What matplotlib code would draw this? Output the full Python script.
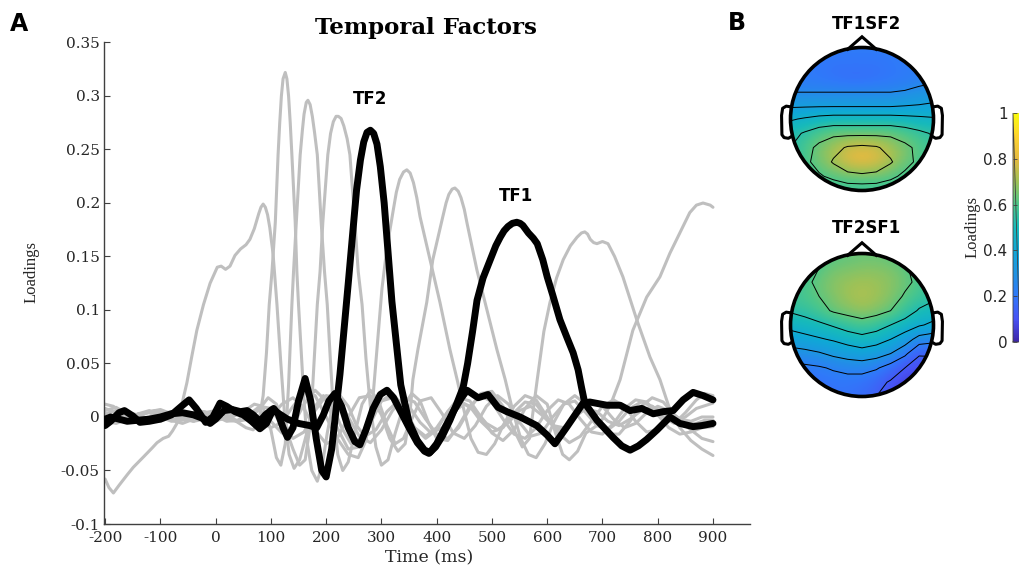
import numpy as np
import matplotlib
matplotlib.use("Agg")
import matplotlib.pyplot as plt
from matplotlib.colors import LinearSegmentedColormap
from matplotlib.patches import Circle

# ---------------- data: temporal factors (time ms, loading) ----------------
TF1 = [(-200,-0.002),(-190,0.0),(-175,-0.002),(-160,-0.004),(-140,-0.003),(-120,-0.002),(-100,0.0),
       (-80,0.003),(-60,0.004),(-40,0.002),(-20,-0.002),(-10,-0.006),(0,-0.002),(15,0.006),(30,0.007),
       (45,0.005),(57,0.006),(68,0.002),(80,-0.004),(90,0.002),(102,0.007),(115,0.003),(130,-0.002),
       (150,-0.006),(170,-0.008),(183,-0.010),(195,0.002),(205,0.015),(216,0.022),(228,0.010),(240,-0.010),
       (252,-0.023),(261,-0.026),(272,-0.012),(285,0.008),(298,0.021),(310,0.025),(322,0.018),(335,0.005),
       (350,-0.010),(365,-0.024),(378,-0.032),(386,-0.034),(398,-0.028),(410,-0.018),(424,-0.003),
       (436,0.012),(448,0.028),(456,0.050),(465,0.080),(473,0.109),(484,0.130),(497,0.147),(507,0.160),
       (515,0.168),(522,0.174),(529,0.178),(537,0.181),(545,0.182),(551,0.181),(556,0.179),(566,0.172),
       (575,0.167),(582,0.162),(592,0.147),(600,0.131),(610,0.114),(623,0.091),(636,0.074),(647,0.060),
       (656,0.044),(662,0.028),(668,0.013),(690,-0.003),(719,-0.019),(735,-0.027),(750,-0.031),
       (765,-0.027),(780,-0.021),(799,-0.012),(822,0.000),(840,-0.006),(864,-0.009),(880,-0.008),
       (900,-0.006)]

TF2 = [(-200,-0.008),(-190,-0.004),(-175,0.004),(-165,0.006),(-150,0.001),(-137,-0.005),(-120,-0.004),
       (-100,-0.002),(-80,0.002),(-62,0.010),(-48,0.016),(-35,0.008),(-18,-0.005),(-5,0.000),(8,0.013),
       (20,0.010),(35,0.005),(50,0.002),(65,-0.004),(80,-0.011),(92,-0.006),(105,0.008),(113,0.003),
       (122,-0.010),(130,-0.019),(140,-0.010),(150,0.015),(162,0.036),(172,0.015),(182,-0.020),
       (192,-0.050),(200,-0.056),(210,-0.030),(225,0.040),(240,0.125),(255,0.212),(262,0.240),
       (268,0.257),(274,0.266),(280,0.268),(286,0.265),(292,0.255),(298,0.234),(305,0.200),
       (319,0.108),(335,0.030),(350,-0.005),(365,-0.022),(378,-0.031),(388,-0.033),(400,-0.025),
       (415,-0.010),(430,0.005),(445,0.018),(455,0.025),(475,0.018),(493,0.021),(511,0.009),
       (527,0.005),(551,0.000),(581,-0.008),(600,-0.017),(614,-0.025),(636,-0.009),(665,0.013),
       (677,0.014),(708,0.011),(732,0.011),(750,0.006),(771,0.008),(792,0.003),(810,0.005),
       (828,0.006),(846,0.016),(864,0.023),(882,0.020),(900,0.016)]

GREY_FACTORS = [
    # G1: early ramp, peak ~86 ms
    [(-200,-0.058),(-193,-0.066),(-185,-0.071),(-175,-0.064),(-160,-0.054),(-149,-0.047),(-130,-0.037),
     (-115,-0.029),(-106,-0.024),(-95,-0.020),(-85,-0.018),(-78,-0.013),(-70,-0.006),(-61,0.012),
     (-52,0.032),(-43,0.057),(-34,0.081),(-22,0.105),(-10,0.125),(3,0.140),(10,0.141),(18,0.138),
     (26,0.141),(35,0.151),(45,0.157),(55,0.161),(62,0.166),(70,0.176),(78,0.190),(82,0.196),(86,0.199),
     (90,0.196),(94,0.189),(98,0.177),(104,0.152),(111,0.105),(118,0.050),(125,0.000),(133,-0.035),
     (142,-0.048),(152,-0.040),(165,-0.015),(180,0.010),(195,0.020),(210,0.012),(228,-0.010),
     (245,-0.025),(262,-0.020),(280,-0.002),(300,0.015),(320,0.018),(340,0.005),(360,-0.010),
     (380,-0.018),(400,-0.010),(420,0.005),(440,0.015),(460,0.010),(480,-0.004),(500,-0.014),
     (520,-0.010),(540,0.004),(560,0.014),(580,0.012),(600,-0.002),(620,-0.012),(640,-0.008),
     (660,0.006),(680,0.014),(700,0.010),(720,-0.002),(740,-0.010),(760,-0.006),(780,0.004),
     (800,0.010),(820,0.006),(840,-0.002),(860,-0.004),(880,0.000),(900,0.000)],
    # G2: peak ~126 ms
    [(-200,0.006),(-180,0.009),(-160,0.003),(-140,-0.002),(-120,0.000),(-100,0.005),(-80,0.003),
     (-60,-0.002),(-40,-0.004),(-20,0.001),(0,0.005),(20,0.001),(40,-0.005),(55,-0.010),(68,-0.012),
     (78,-0.005),(86,0.020),(92,0.060),(97,0.105),(102,0.136),(108,0.182),(113,0.245),(116,0.275),
     (119,0.300),(122,0.316),(126,0.322),(129,0.316),(132,0.300),(135,0.275),(138,0.245),(144,0.182),
     (147,0.136),(150,0.105),(155,0.060),(160,0.015),(166,-0.025),(174,-0.050),(184,-0.060),
     (193,-0.045),(202,-0.015),(212,0.012),(225,0.020),(240,0.010),(255,-0.008),(270,-0.018),
     (290,-0.012),(310,0.005),(330,0.015),(350,0.010),(370,-0.005),(390,-0.015),(410,-0.010),
     (430,0.005),(450,0.012),(470,0.006),(490,-0.006),(510,-0.012),(530,-0.005),(550,0.006),
     (570,0.010),(590,0.002),(610,-0.008),(630,-0.010),(650,0.000),(670,0.008),(690,0.005),
     (710,-0.004),(730,-0.008),(750,-0.002),(770,0.006),(790,0.010),(810,0.004),(830,-0.004),
     (850,0.000),(870,0.008),(900,0.013)],
    # G3: peak ~167 ms
    [(-200,0.012),(-185,0.010),(-170,0.004),(-150,0.000),(-130,0.003),(-110,0.006),(-90,0.002),
     (-70,-0.002),(-50,0.002),(-30,0.006),(-10,0.003),(10,-0.002),(30,0.000),(50,0.005),(70,0.012),
     (85,0.010),(100,-0.012),(110,-0.038),(118,-0.045),(126,-0.025),(132,0.030),(138,0.105),
     (141,0.136),(146,0.182),(153,0.245),(157,0.268),(160,0.283),(164,0.294),(167,0.296),(171,0.292),
     (175,0.281),(179,0.266),(184,0.245),(191,0.182),(197,0.136),(202,0.105),(208,0.050),(214,0.000),
     (221,-0.035),(230,-0.050),(240,-0.042),(252,-0.015),(265,0.012),(280,0.025),(295,0.015),
     (310,-0.008),(325,-0.025),(340,-0.020),(355,-0.002),(370,0.015),(390,0.018),(410,0.003),
     (430,-0.015),(450,-0.020),(470,-0.008),(490,0.010),(510,0.020),(530,0.012),(550,-0.005),
     (570,-0.018),(590,-0.015),(610,0.000),(630,0.012),(650,0.015),(670,0.004),(690,-0.008),
     (710,-0.012),(730,-0.004),(750,0.008),(770,0.014),(790,0.010),(810,0.000),(830,-0.006),
     (850,0.004),(870,0.016),(885,0.022),(900,0.020)],
    # G4: peak ~222 ms
    [(-200,0.000),(-180,-0.004),(-160,-0.002),(-140,0.003),(-120,0.006),(-100,0.002),(-80,-0.003),
     (-60,-0.006),(-40,-0.002),(-20,0.004),(0,0.006),(20,0.002),(40,-0.004),(60,-0.002),(80,0.008),
     (95,0.018),(110,0.012),(125,-0.008),(140,-0.030),(152,-0.045),(162,-0.040),(172,-0.005),
     (178,0.050),(184,0.105),(189,0.136),(194,0.182),(203,0.245),(208,0.265),(213,0.276),(218,0.281),
     (222,0.281),(227,0.279),(232,0.272),(238,0.260),(243,0.245),(252,0.182),(258,0.136),(265,0.105),
     (272,0.055),(280,0.010),(290,-0.028),(300,-0.045),(312,-0.040),(325,-0.015),(340,0.010),
     (355,0.022),(370,0.015),(385,-0.005),(400,-0.020),(420,-0.022),(440,-0.008),(460,0.010),
     (480,0.020),(500,0.014),(520,-0.002),(540,-0.016),(560,-0.020),(580,-0.010),(600,0.006),
     (620,0.016),(640,0.012),(660,-0.002),(680,-0.014),(700,-0.016),(720,-0.006),(740,0.008),
     (760,0.016),(780,0.014),(800,0.002),(820,-0.010),(840,-0.016),(860,-0.014),(880,-0.010),
     (900,-0.009)],
    # G5: peak ~346 ms
    [(-200,-0.004),(-180,0.000),(-160,0.004),(-140,0.002),(-120,-0.003),(-100,-0.004),(-80,0.000),
     (-60,0.003),(-40,0.001),(-20,-0.003),(0,-0.004),(20,0.000),(40,0.004),(60,0.002),(80,-0.004),
     (100,-0.010),(120,-0.005),(140,0.010),(160,0.022),(180,0.020),(200,0.000),(220,-0.020),
     (240,-0.035),(258,-0.038),(272,-0.022),(285,0.020),(293,0.070),(301,0.120),(310,0.158),
     (321,0.192),(327,0.210),(333,0.222),(340,0.229),(346,0.231),(352,0.228),(358,0.219),(364,0.205),
     (370,0.187),(388,0.147),(406,0.107),(424,0.063),(437,0.035),(450,0.005),(462,-0.020),
     (475,-0.033),(490,-0.035),(505,-0.025),(520,-0.008),(540,0.010),(560,0.020),(580,0.016),
     (600,0.000),(620,-0.015),(640,-0.024),(660,-0.018),(680,-0.004),(700,0.010),(720,0.016),
     (740,0.010),(760,-0.004),(780,-0.014),(800,-0.012),(820,-0.004),(840,-0.004),(860,-0.012),
     (880,-0.020),(900,-0.023)],
    # G6: peak ~433 ms
    [(-200,0.003),(-180,0.006),(-160,0.000),(-140,-0.004),(-120,-0.002),(-100,0.003),(-80,0.005),
     (-60,0.000),(-40,-0.004),(-20,-0.002),(0,0.002),(20,0.005),(40,0.002),(60,-0.003),(80,-0.006),
     (100,0.000),(120,0.012),(140,0.018),(160,0.008),(180,-0.012),(200,-0.025),(220,-0.020),
     (240,0.000),(260,0.018),(280,0.020),(300,0.002),(315,-0.020),(330,-0.032),(343,-0.025),
     (352,0.005),(357,0.035),(366,0.063),(382,0.107),(393,0.147),(411,0.187),(417,0.200),(422,0.208),
     (428,0.213),(433,0.214),(439,0.211),(444,0.205),(450,0.194),(455,0.181),(473,0.137),(491,0.100),
     (509,0.063),(524,0.035),(538,0.005),(552,-0.020),(566,-0.035),(580,-0.038),(596,-0.025),
     (612,-0.005),(630,0.012),(650,0.020),(670,0.012),(690,-0.004),(710,-0.016),(730,-0.016),
     (750,-0.004),(770,0.010),(790,0.018),(810,0.014),(830,0.002),(850,-0.006),(870,-0.006),
     (885,-0.003),(900,-0.003)],
    # G7: peak ~668 ms with notch
    [(-200,0.008),(-180,0.004),(-160,-0.002),(-140,0.000),(-120,0.005),(-100,0.007),(-80,0.003),
     (-60,-0.002),(-40,0.000),(-20,0.004),(0,0.002),(20,-0.003),(40,-0.004),(60,0.002),(80,0.010),
     (100,0.008),(120,-0.008),(140,-0.020),(160,-0.014),(180,0.006),(200,0.020),(220,0.018),
     (240,0.000),(260,-0.018),(280,-0.024),(300,-0.012),(320,0.006),(340,0.018),(360,0.014),
     (380,-0.002),(400,-0.016),(420,-0.020),(440,-0.010),(460,0.008),(480,0.022),(500,0.024),
     (520,0.010),(540,-0.012),(555,-0.028),(568,-0.020),(582,0.035),(594,0.080),(605,0.107),
     (617,0.130),(629,0.147),(642,0.160),(654,0.168),(662,0.172),(668,0.173),(673,0.171),(678,0.166),
     (684,0.163),(690,0.162),(700,0.164),(710,0.162),(722,0.150),(737,0.131),(762,0.091),(786,0.056),
     (804,0.035),(820,0.010),(840,-0.010),(860,-0.022),(880,-0.030),(900,-0.036)],
    # G8: rising towards end
    [(-200,-0.004),(-180,-0.006),(-160,-0.002),(-140,0.003),(-120,0.004),(-100,0.000),(-80,-0.004),
     (-60,-0.003),(-40,0.002),(-20,0.005),(0,0.001),(20,-0.004),(40,-0.003),(60,0.004),(80,0.006),
     (100,-0.004),(120,-0.015),(140,-0.008),(160,0.012),(180,0.025),(200,0.015),(220,-0.010),
     (240,-0.030),(260,-0.028),(280,-0.006),(300,0.015),(320,0.022),(340,0.010),(360,-0.010),
     (380,-0.020),(400,-0.012),(420,0.005),(440,0.018),(460,0.015),(480,0.000),(500,-0.015),
     (520,-0.022),(540,-0.012),(560,0.008),(580,0.020),(600,0.012),(615,-0.015),(628,-0.035),
     (640,-0.040),(655,-0.032),(670,-0.015),(690,-0.008),(700,-0.002),(715,0.012),(732,0.035),
     (755,0.081),(780,0.112),(804,0.131),(822,0.153),(840,0.172),(858,0.191),(870,0.198),
     (882,0.200),(895,0.198),(900,0.196)],
]

X_TICKS = [-200, -100, 0, 100, 200, 300, 400, 500, 600, 700, 800, 900]
Y_TICKS = [-0.1, -0.05, 0, 0.05, 0.1, 0.15, 0.2, 0.25, 0.3, 0.35]
Y_TICKLABELS = ["-0.1", "-0.05", "0", "0.05", "0.1", "0.15", "0.2", "0.25", "0.3", "0.35"]
CB_TICKS = [0, 0.2, 0.4, 0.6, 0.8, 1]
CB_TICKLABELS = ["0", "0.2", "0.4", "0.6", "0.8", "1"]

# ---------------- data: spatial topographies (11x11, rows front -> back, cols left -> right) ----
TOPO_TF1SF2 = [
    [0.22, 0.22, 0.21, 0.21, 0.21, 0.21, 0.21, 0.21, 0.22, 0.22, 0.23],
    [0.21, 0.21, 0.20, 0.19, 0.19, 0.19, 0.19, 0.20, 0.21, 0.22, 0.23],
    [0.21, 0.21, 0.20, 0.19, 0.18, 0.18, 0.19, 0.20, 0.21, 0.22, 0.24],
    [0.26, 0.26, 0.26, 0.26, 0.26, 0.26, 0.26, 0.26, 0.27, 0.29, 0.30],
    [0.34, 0.34, 0.34, 0.34, 0.34, 0.34, 0.34, 0.34, 0.35, 0.36, 0.37],
    [0.44, 0.46, 0.48, 0.49, 0.49, 0.49, 0.49, 0.49, 0.48, 0.47, 0.46],
    [0.52, 0.56, 0.60, 0.62, 0.62, 0.62, 0.62, 0.62, 0.60, 0.57, 0.54],
    [0.55, 0.61, 0.66, 0.70, 0.74, 0.75, 0.74, 0.70, 0.66, 0.62, 0.58],
    [0.56, 0.62, 0.67, 0.74, 0.80, 0.82, 0.80, 0.74, 0.67, 0.62, 0.58],
    [0.55, 0.59, 0.63, 0.66, 0.70, 0.71, 0.70, 0.66, 0.62, 0.59, 0.56],
    [0.54, 0.56, 0.57, 0.58, 0.58, 0.58, 0.58, 0.58, 0.57, 0.56, 0.54],
]
TOPO_TF2SF1 = [
    [0.55, 0.57, 0.60, 0.62, 0.63, 0.64, 0.64, 0.63, 0.61, 0.58, 0.55],
    [0.56, 0.59, 0.63, 0.66, 0.67, 0.68, 0.68, 0.67, 0.64, 0.60, 0.56],
    [0.57, 0.61, 0.65, 0.68, 0.70, 0.71, 0.70, 0.68, 0.65, 0.61, 0.57],
    [0.58, 0.60, 0.63, 0.67, 0.70, 0.72, 0.70, 0.67, 0.62, 0.58, 0.55],
    [0.54, 0.56, 0.60, 0.64, 0.66, 0.68, 0.66, 0.63, 0.58, 0.52, 0.49],
    [0.47, 0.49, 0.51, 0.54, 0.57, 0.59, 0.57, 0.53, 0.49, 0.45, 0.42],
    [0.39, 0.41, 0.43, 0.45, 0.48, 0.50, 0.48, 0.44, 0.39, 0.30, 0.28],
    [0.30, 0.31, 0.33, 0.36, 0.38, 0.40, 0.38, 0.34, 0.27, 0.16, 0.16],
    [0.22, 0.23, 0.24, 0.26, 0.28, 0.28, 0.26, 0.21, 0.15, 0.10, 0.11],
    [0.18, 0.19, 0.20, 0.21, 0.21, 0.21, 0.18, 0.14, 0.09, 0.07, 0.09],
    [0.16, 0.17, 0.18, 0.19, 0.19, 0.17, 0.15, 0.10, 0.06, 0.06, 0.08],
]
LEVELS_TF1SF2 = [0.27, 0.36, 0.45, 0.55, 0.64, 0.73]
LEVELS_TF2SF1 = [0.15, 0.25, 0.34, 0.44, 0.53, 0.63]

# parula-like colormap anchors
PARULA = [(0.2422, 0.1504, 0.6603), (0.2810, 0.3228, 0.9579), (0.1900, 0.4700, 0.9800),
          (0.1200, 0.5800, 0.8900), (0.0600, 0.6600, 0.8400), (0.0900, 0.7300, 0.7300),
          (0.3000, 0.7800, 0.5400), (0.6200, 0.7600, 0.3400), (0.9000, 0.7300, 0.2500),
          (0.9950, 0.8300, 0.1800), (0.9763, 0.9831, 0.0538)]
cmap = LinearSegmentedColormap.from_list("parula", PARULA)

W, H = 1019, 567
fig = plt.figure(figsize=(W / 100, H / 100), dpi=100)

def fx(px):
    return px / W

def fy(py):
    return 1 - py / H

# ---------------- panel A ----------------
ax = fig.add_axes([fx(104), fy(524), fx(750) - fx(104), fy(42.5) - fy(524)])
grey = "#bfbfbf"
for series in GREY_FACTORS:
    t = [p[0] for p in series]
    v = [p[1] for p in series]
    ax.plot(t, v, color=grey, lw=2.2, solid_joinstyle="round", solid_capstyle="round", zorder=2)
for series in (TF2, TF1):
    t = [p[0] for p in series]
    v = [p[1] for p in series]
    ax.plot(t, v, color="black", lw=5.0, solid_joinstyle="round", solid_capstyle="round", zorder=3)

ax.set_xlim(-202, 967)
ax.set_ylim(-0.1, 0.35)
ax.set_xticks(X_TICKS)
ax.set_xticklabels([str(x) for x in X_TICKS])
ax.set_yticks(Y_TICKS)
ax.set_yticklabels(Y_TICKLABELS)
for s in ("top", "right"):
    ax.spines[s].set_visible(False)
for s in ("left", "bottom"):
    ax.spines[s].set_color("#404040")
    ax.spines[s].set_linewidth(1.0)
serif = "DejaVu Serif"
ax.tick_params(direction="in", length=4, width=0.8, colors="#404040", labelcolor="#262626",
               labelsize=11)
ax.tick_params(axis="x", pad=5)
ax.tick_params(axis="y", pad=3)
for lab in ax.get_xticklabels() + ax.get_yticklabels():
    lab.set_family(serif)

ax.set_xlabel("Time (ms)", family=serif, fontsize=12.5, color="#262626")
ax.xaxis.set_label_coords((429 - 104) / 646, -(549 - 524) / 481)
ax.set_ylabel("Loadings", family="Liberation Serif", fontsize=12, color="#262626")
ax.yaxis.set_label_coords((40 - 104) / 646, (524 - 272) / 481)

fig.text(fx(426), fy(28), "Temporal Factors", family=serif, fontweight="bold", fontsize=16.5,
         ha="center", va="center", color="black")
fig.text(fx(370), fy(99), "TF2", family="DejaVu Sans", fontweight="bold", fontsize=12,
         ha="center", va="center")
fig.text(fx(516), fy(196), "TF1", family="DejaVu Sans", fontweight="bold", fontsize=12,
         ha="center", va="center")
fig.text(fx(19), fy(24), "A", family="DejaVu Sans", fontweight="bold", fontsize=17,
         ha="center", va="center")
fig.text(fx(737), fy(23), "B", family="DejaVu Sans", fontweight="bold", fontsize=17,
         ha="center", va="center")

# ---------------- panel B: topographies ----------------
R = 71.5
EXT = 1.3

def draw_head(cx, cy, grid, levels, title, ty):
    size = 2 * EXT * R
    hax = fig.add_axes([fx(cx - size / 2), fy(cy + size / 2), size / W, size / H])
    hax.set_xlim(-EXT, EXT)
    hax.set_ylim(EXT, -EXT)
    hax.axis("off")
    g = np.array(grid)
    n = g.shape[0]
    xs = np.linspace(-1, 1, n)
    clip = Circle((0, 0), 1.0, transform=hax.transData, facecolor="none", edgecolor="none")
    hax.add_patch(clip)
    im = hax.imshow(g, cmap=cmap, vmin=0, vmax=1, extent=(-1, 1, 1, -1), origin="upper",
                    interpolation="bicubic", zorder=1)
    im.set_clip_path(clip)
    cs = hax.contour(xs, xs, g, levels=levels, colors="black", linewidths=0.7, zorder=2)
    cs.set_clip_path(clip)
    hax.add_patch(Circle((0, 0), 1.0, facecolor="none", edgecolor="black", lw=2.6, zorder=4))
    # nose
    hax.plot([-0.2, 0.0, 0.2], [-0.975, -1.15, -0.975], color="black", lw=2.2,
             solid_joinstyle="miter", zorder=4)
    # ears
    ear_x = [-0.995, -1.06, -1.11, -1.125, -1.12, -1.09, -1.03, -0.995]
    ear_y = [-0.17, -0.18, -0.15, -0.05, 0.22, 0.26, 0.27, 0.25]
    hax.plot(ear_x, ear_y, color="black", lw=2.2, zorder=4, solid_joinstyle="round")
    hax.plot([-x for x in ear_x], ear_y, color="black", lw=2.2, zorder=4, solid_joinstyle="round")
    fig.text(fx(cx + 5), fy(ty), title, family="DejaVu Sans", fontweight="bold", fontsize=12,
             ha="center", va="center")
    return im

im = draw_head(862, 119, TOPO_TF1SF2, LEVELS_TF1SF2, "TF1SF2", 24)
draw_head(862, 325, TOPO_TF2SF1, LEVELS_TF2SF1, "TF2SF1", 228)

# colorbar
cax = fig.add_axes([fx(1013), fy(342), fx(14), fy(113) - fy(342)])
cb = fig.colorbar(im, cax=cax, ticks=CB_TICKS)
cb.ax.set_yticklabels(CB_TICKLABELS)
cb.ax.yaxis.set_ticks_position("left")
cb.ax.yaxis.set_label_position("left")
cb.ax.tick_params(direction="in", length=3, width=0.6, labelsize=11, colors="#404040",
                  labelcolor="#262626", pad=4)
cb.outline.set_edgecolor("#404040")
cb.outline.set_linewidth(0.6)
cb.set_label("Loadings", family="Liberation Serif", fontsize=12, color="#262626", labelpad=2)

fig.savefig("out.png", dpi=100)
